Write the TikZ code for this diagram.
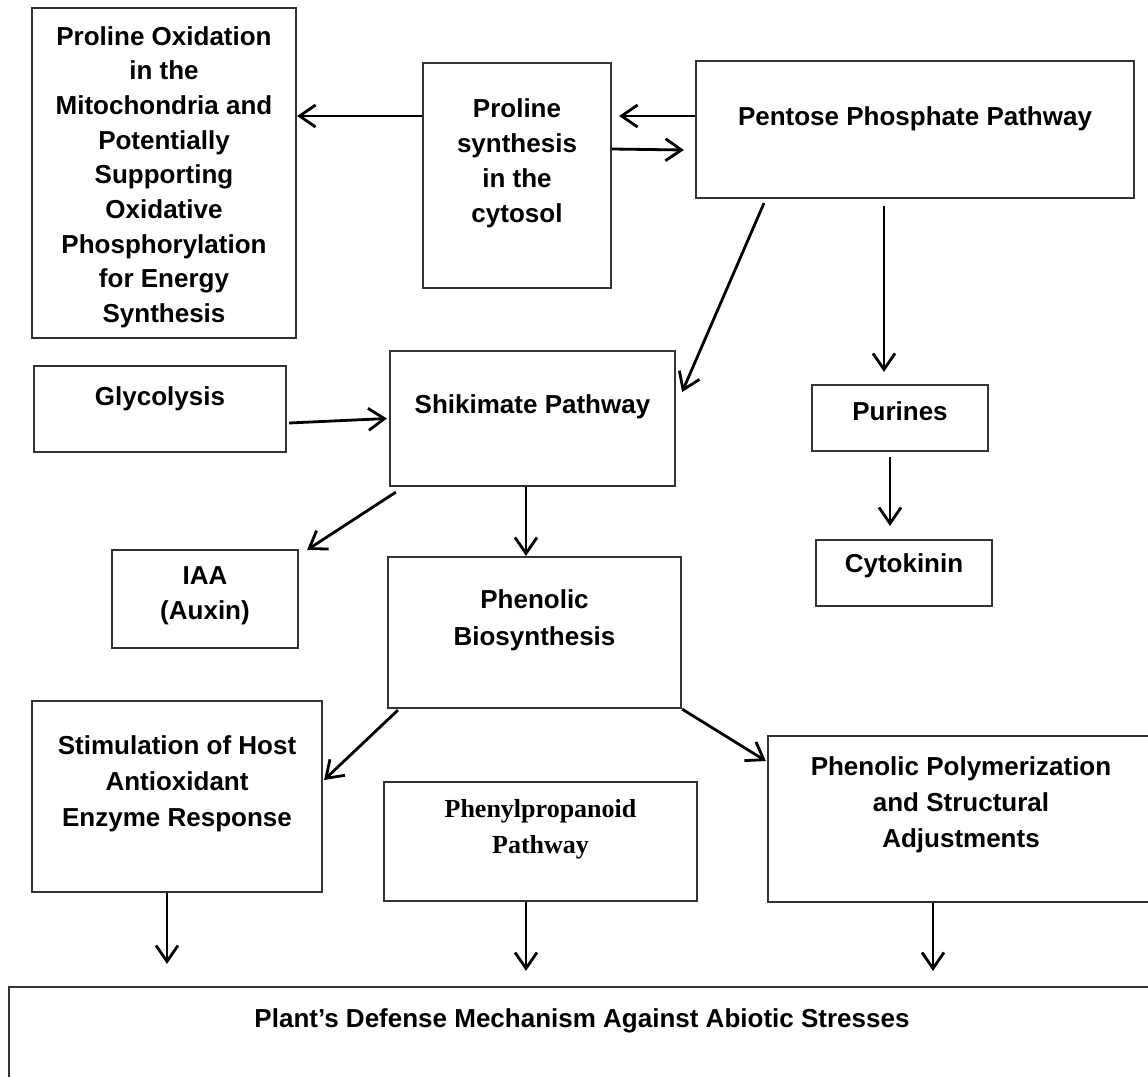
\documentclass[tikz,border=0pt]{standalone}
\usepackage{fontspec}
\setmainfont{Liberation Sans}
\newfontfamily\timesbold{Liberation Serif}
\usetikzlibrary{arrows.meta}
\tikzset{
  box/.style={draw=black!80, line width=2.2pt, fill=white, inner sep=0pt, rectangle},
  txt/.style={anchor=north, inner sep=0pt, align=center, font=\fontsize{26}{35}\selectfont\bfseries},
  arr/.style={draw=black, line width=2.8pt, -{Straight Barb[length=16pt,width=22pt,line width=2.8pt]}}
}
\begin{document}
\begin{tikzpicture}[x=1pt,y=-1pt]
\useasboundingbox (0,0) rectangle (1148,1076);
\fill[white] (0,0) rectangle (1148,1076);
% boxes
\node[box, minimum width=264pt, minimum height=330pt] (ox) at (164,173) {};
\node[box, minimum width=188pt, minimum height=225pt] (syn) at (517,175.5) {};
\node[box, minimum width=438pt, minimum height=137pt] (ppp) at (915,129.5) {};
\node[box, minimum width=252pt, minimum height=86pt] (gly) at (160,409) {};
\node[box, minimum width=285pt, minimum height=135pt] (shk) at (532.5,418.5) {};
\node[box, minimum width=176pt, minimum height=66pt] (pur) at (900,418) {};
\node[box, minimum width=176pt, minimum height=66pt] (cyt) at (904,573) {};
\node[box, minimum width=186pt, minimum height=98pt] (iaa) at (205,599) {};
\node[box, minimum width=293pt, minimum height=151pt] (phe) at (534.5,632.5) {};
\node[box, minimum width=290pt, minimum height=191pt] (sti) at (177,796.5) {};
\node[box, minimum width=313pt, minimum height=119pt] (php) at (540.5,841.5) {};
\node[box, minimum width=386pt, minimum height=166pt] (pol) at (961,819) {};
\node[box, minimum width=1146pt, minimum height=133pt] (def) at (582,1053.5) {};
% texts
\node[txt, font=\fontsize{26}{34.7}\selectfont\bfseries] (tox) at (164,26) {Proline Oxidation\\in the\\Mitochondria and\\Potentially\\Supporting\\Oxidative\\Phosphorylation\\for Energy\\Synthesis};
\node[txt] (tsyn) at (517,98) {Proline\\synthesis\\in the\\cytosol};
\node[txt] (tppp) at (915,106) {Pentose Phosphate Pathway};
\node[txt] (tgly) at (160,386) {Glycolysis};
\node[txt] (tshk) at (532.5,394) {Shikimate Pathway};
\node[txt] (tpur) at (900,401) {Purines};
\node[txt] (tcyt) at (904,553) {Cytokinin};
\node[txt] (tiaa) at (205,566) {IAA\\(Auxin)};
\node[txt, font=\fontsize{26}{37}\selectfont\bfseries] (tphe) at (534.5,589) {Phenolic\\Biosynthesis};
\node[txt, font=\fontsize{26}{36}\selectfont\bfseries] (tsti) at (177,735) {Stimulation of Host\\Antioxidant\\Enzyme Response};
\node[txt, font=\fontsize{26}{36}\selectfont\timesbold\bfseries] (tphp) at (540.5,799) {Phenylpropanoid\\Pathway};
\node[txt, font=\fontsize{26}{36}\selectfont\bfseries] (tpol) at (961,756) {Phenolic Polymerization\\and Structural\\Adjustments};
\node[txt] (tdef) at (582,1008) {Plant's Defense Mechanism Against Abiotic Stresses};
% connectors
\draw[arr] ([yshift=59.5pt]syn.west) -- ([yshift=57pt]ox.east);
\draw[arr] ([yshift=13.5pt]ppp.west) -- ([xshift=7pt,yshift=59.5pt]syn.east);
\draw[arr] ([yshift=26.5pt]syn.east) -- ([xshift=-11pt,yshift=-20.5pt]ppp.west);
\draw[arr] ([xshift=-151pt,yshift=-4pt]ppp.south) -- ([xshift=6pt,yshift=26.5pt]shk.east);
\draw[arr] ([xshift=-31pt,yshift=-7pt]ppp.south) -- ([xshift=-16pt,yshift=12pt]pur.north);
\draw[arr] ([xshift=2pt,yshift=-14pt]gly.east) -- ([xshift=-2pt]shk.west);
\draw[arr] ([xshift=7pt,yshift=-5pt]shk.south west) -- ([xshift=8pt,yshift=-1pt]iaa.north east);
\draw[arr] ([xshift=-6.5pt]shk.south) -- ([xshift=-8.5pt]phe.north);
\draw[arr] ([xshift=-10pt,yshift=-5pt]pur.south) -- ([xshift=-14pt,yshift=13pt]cyt.north);
\draw[arr] ([xshift=11pt,yshift=-1pt]phe.south west) -- ([xshift=1pt,yshift=16.5pt]sti.east);
\draw[arr] (phe.south east) -- ([xshift=-1pt,yshift=58pt]pol.west);
\draw[arr] ([xshift=-10pt]sti.south) -- ([xshift=-415pt,yshift=22pt]def.north);
\draw[arr] ([xshift=-14.5pt]php.south) -- ([xshift=-56pt,yshift=15pt]def.north);
\draw[arr] ([xshift=-28pt]pol.south) -- ([xshift=351pt,yshift=15pt]def.north);
\end{tikzpicture}
\end{document}
